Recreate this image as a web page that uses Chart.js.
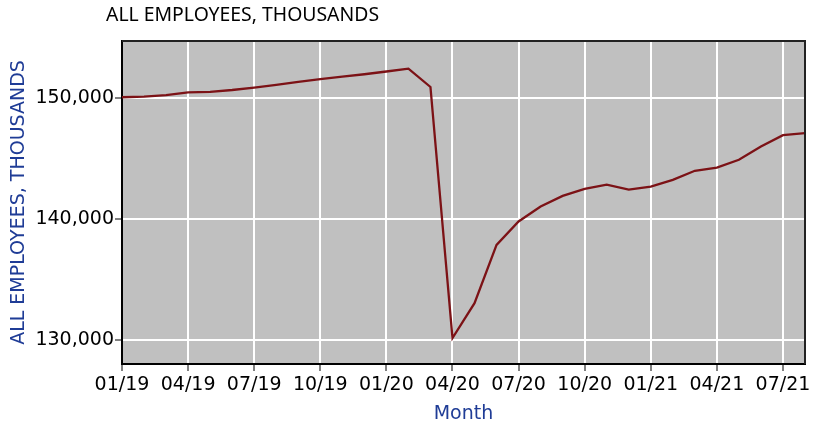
<!DOCTYPE html>
<html>
<head>
<meta charset="utf-8">
<script src="https://cdn.jsdelivr.net/npm/chart.js@4"></script>
<style>
html,body{margin:0;padding:0;background:#fff;}
#wrap{width:839px;height:441px;position:relative;}
</style>
</head>
<body>
<div id="wrap"><canvas id="c" width="839" height="441"></canvas></div>
<script>
const chartTitle = "ALL EMPLOYEES, THOUSANDS";
const yAxisTitle = "ALL EMPLOYEES, THOUSANDS";
const xAxisTitle = "Month";
const months = ["01/19","02/19","03/19","04/19","05/19","06/19","07/19","08/19","09/19","10/19","11/19","12/19",
                "01/20","02/20","03/20","04/20","05/20","06/20","07/20","08/20","09/20","10/20","11/20","12/20",
                "01/21","02/21","03/21","04/21","05/21","06/21","07/21","08/21"];
const employees = [150050,150100,150220,150450,150500,150650,150850,151080,151320,151550,151750,151950,
                   152180,152420,150900,130150,133030,137850,139780,141020,141900,142480,142820,142420,
                   142670,143220,143970,144240,144880,145980,146920,147080];
const yTicks = [130000,140000,150000];
const yMin = 128000, yMax = 154700;
const xTickStep = 3;

const plotBg = {
  id:'plotBg',
  beforeDraw(chart){
    const {ctx, chartArea:a} = chart;
    ctx.save(); ctx.fillStyle='#c0c0c0';
    ctx.fillRect(a.left,a.top,a.right-a.left,a.bottom-a.top);
    ctx.restore();
  },
  afterDraw(chart){
    const {ctx, chartArea:a} = chart;
    ctx.save();
    ctx.strokeStyle='#222'; ctx.lineWidth=2;
    ctx.beginPath();
    ctx.moveTo(a.left,a.top); ctx.lineTo(a.right,a.top); ctx.lineTo(a.right,a.bottom);
    ctx.stroke();
    ctx.fillStyle='#000';
    ctx.font='19.4px "Noto Sans"';
    ctx.textBaseline='alphabetic';
    ctx.fillText(chartTitle,106,21);
    ctx.restore();
  }
};

new Chart(document.getElementById('c'),{
  type:'line',
  data:{
    datasets:[{
      data: employees.map((v,i)=>({x:i,y:v})),
      borderColor:'#7c1216',
      borderWidth:2.3,
      pointRadius:0,
      tension:0,
      fill:false
    }]
  },
  options:{
    responsive:false,
    animation:false,
    events:[],
    layout:{padding:{top:41,right:34,bottom:0,left:0}},
    plugins:{legend:{display:false},tooltip:{enabled:false},title:{display:false}},
    scales:{
      x:{
        type:'linear', min:0, max:months.length-1,
        afterBuildTicks(s){
          const t=[]; for(let i=0;i<months.length;i+=xTickStep) t.push({value:i});
          s.ticks = t;
        },
        afterFit(s){ s.height = 77; },
        ticks:{stepSize:xTickStep, autoSkip:false, maxRotation:0, padding:3,
          color:'#000', font:{family:'DejaVu Sans', size:19},
          callback:(v)=>months[v]},
        grid:{color:'#ffffff', lineWidth:2, tickColor:'#000', tickLength:7, tickWidth:1, drawTicks:true},
        border:{display:true, color:'#000', width:2},
        title:{display:true, text:xAxisTitle, color:'#1f3c96',
          font:{family:'DejaVu Sans', size:19}, padding:{top:0,bottom:16}}
      },
      y:{
        min:yMin, max:yMax,
        afterBuildTicks(s){ s.ticks = yTicks.map(v=>({value:v})); },
        afterFit(s){ s.width = 122; },
        ticks:{padding:1, color:'#000', font:{family:'DejaVu Sans', size:19},
          callback:(v)=>v.toLocaleString('en-US')},
        grid:{color:'#ffffff', lineWidth:2, tickColor:'#000', tickLength:7, tickWidth:1, drawTicks:true},
        border:{display:true, color:'#000', width:2},
        title:{display:true, text:yAxisTitle, color:'#1f3c96',
          font:{family:'DejaVu Sans', size:19}, padding:{top:8,bottom:0}}
      }
    }
  },
  plugins:[plotBg]
});
</script>
</body>
</html>
